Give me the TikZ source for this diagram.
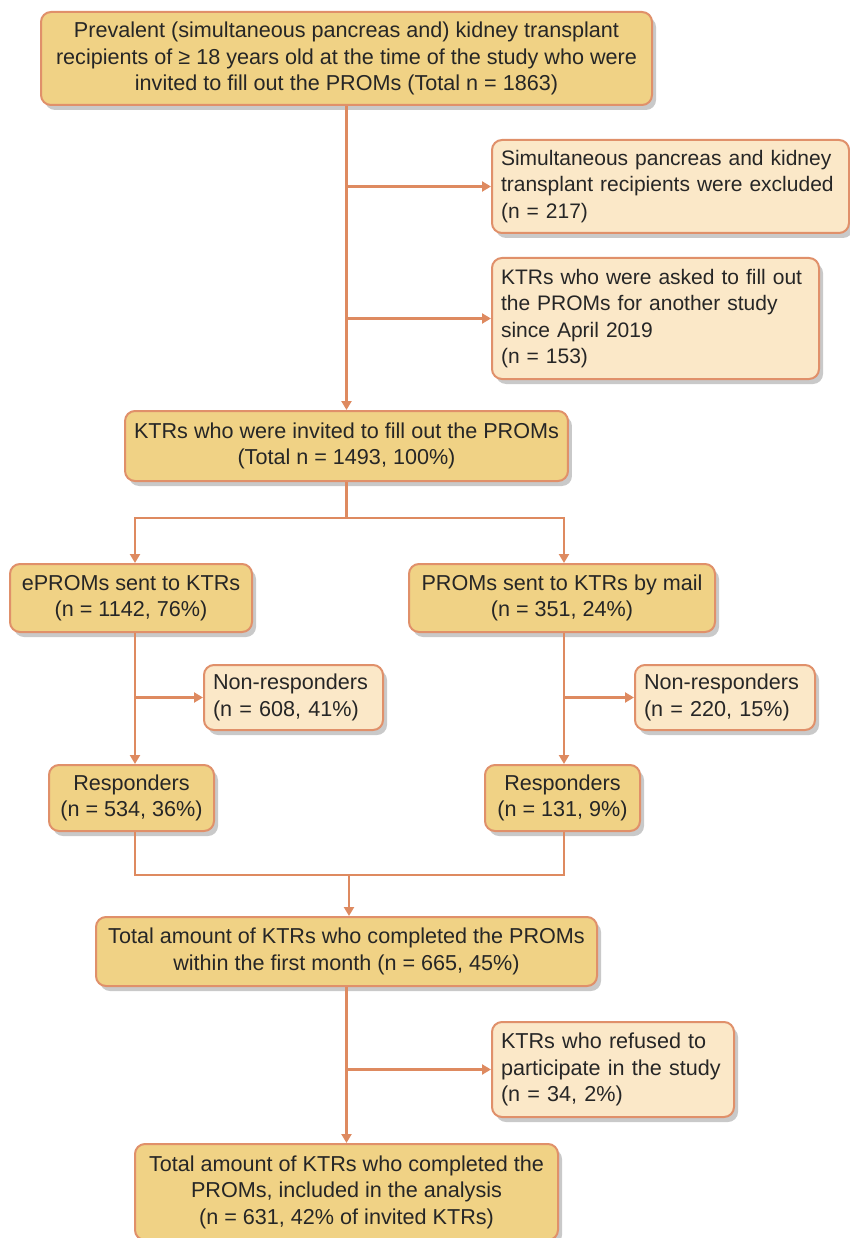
\documentclass[tikz,border=0pt]{standalone}
\usepackage{fontspec}
\setmainfont{Liberation Sans}
\usetikzlibrary{arrows.meta,shadows}
\definecolor{darkfill}{HTML}{F0D285}
\definecolor{lightfill}{HTML}{FBE8C8}
\definecolor{edge}{HTML}{E0906A}
\definecolor{linec}{HTML}{DE8A60}
\tikzset{
  base/.style={draw=edge, line width=2pt, rounded corners=10pt, inner xsep=9pt, inner ysep=6pt,
    drop shadow={opacity=0.35, shadow xshift=4pt, shadow yshift=-5pt, fill=black!60},
    font=\fontsize{21.6}{26.5}\selectfont, text=black!85},
  mainbox/.style={base, fill=darkfill, align=center},
  sidebox/.style={base, fill=lightfill, align=left},
  smalltext/.style={font=\fontsize{21}{26.5}\selectfont},
  conn/.style={draw=linec, line width=2.2pt},
  arr/.style={conn, -{Triangle[length=9pt,width=10pt]}},
}
\begin{document}
\begin{tikzpicture}[x=1pt,y=-1pt]
\useasboundingbox (0,0) rectangle (849,1238);
\fill[white] (0,0) rectangle (849,1238);

\node[mainbox, minimum width=611, minimum height=93] (top) at (346.5,58.5)
  {Prevalent (simultaneous pancreas and) kidney transplant\\recipients of ≥ 18 years old at the time of the study who were\\invited to fill out the PROMs (Total n = 1863)};
\node[sidebox, smalltext, minimum width=357, minimum height=93, text width=339] (ex1) at (670.5,186.5)
  {Simultaneous pancreas and kidney\\transplant recipients were excluded\\(n = 217)};
\node[sidebox, smalltext, minimum width=327, minimum height=121, text width=309] (ex2) at (655.5,318.5)
  {KTRs who were asked to fill out\\the PROMs for another study\\since April 2019\\(n = 153)};
\node[mainbox, minimum width=441, minimum height=70] (inv) at (346.5,446)
  {KTRs who were invited to fill out the PROMs\\(Total n = 1493, 100\%)};
\node[mainbox, minimum width=242, minimum height=68] (ep) at (131,598)
  {ePROMs sent to KTRs\\(n = 1142, 76\%)};
\node[mainbox, minimum width=306, minimum height=68] (pm) at (562,598)
  {PROMs sent to KTRs by mail\\(n = 351, 24\%)};
\node[sidebox, minimum width=179, minimum height=65, text width=161] (nr1) at (293.5,697.5)
  {Non-responders\\(n = 608, 41\%)};
\node[sidebox, minimum width=180, minimum height=65, text width=162] (nr2) at (725,697.5)
  {Non-responders\\(n = 220, 15\%)};
\node[mainbox, minimum width=165, minimum height=66] (r1) at (131.5,798)
  {Responders\\(n = 534, 36\%)};
\node[mainbox, minimum width=155, minimum height=66] (r2) at (562.5,798)
  {Responders\\(n = 131, 9\%)};
\node[mainbox, minimum width=501, minimum height=69] (tot) at (346.5,951.5)
  {Total amount of KTRs who completed the PROMs\\within the first month (n = 665, 45\%)};
\node[sidebox, minimum width=242, minimum height=95, text width=224] (ref) at (613,1069.5)
  {KTRs who refused to\\participate in the study\\(n = 34, 2\%)};
\node[mainbox, minimum width=423, minimum height=96] (fin) at (346.5,1192)
  {Total amount of KTRs who completed the\\PROMs, included in the analysis\\(n = 631, 42\% of invited KTRs)};

% column positions
\coordinate (cm) at (346.5,0);
\coordinate (cl) at (135,0);
\coordinate (cr) at (564,0);

% connectors
\draw[arr] (cm |- top.south) -- (cm |- inv.north);
\draw[arr] (cm |- ex1.west) -- (ex1.west);
\draw[arr] (cm |- ex2.west) -- (ex2.west);

\coordinate (s1) at (346.5,518);
\draw[conn] (cm |- inv.south) -- (s1);
\draw[arr] (s1) -| (cl |- ep.north);
\draw[arr] (s1) -| (cr |- pm.north);

\draw[arr] (cl |- ep.south) -- (cl |- r1.north);
\draw[arr] (cl |- nr1.west) -- (nr1.west);
\draw[arr] (cr |- pm.south) -- (cr |- r2.north);
\draw[arr] (cr |- nr2.west) -- (nr2.west);

\coordinate (j) at (349,875);
\draw[conn] (cl |- r1.south) |- (j) -| (cr |- r2.south);
\draw[arr] (j) -- (j |- tot.north);

\draw[arr] (cm |- tot.south) -- (cm |- fin.north);
\draw[arr] (cm |- ref.west) -- (ref.west);
\end{tikzpicture}
\end{document}
